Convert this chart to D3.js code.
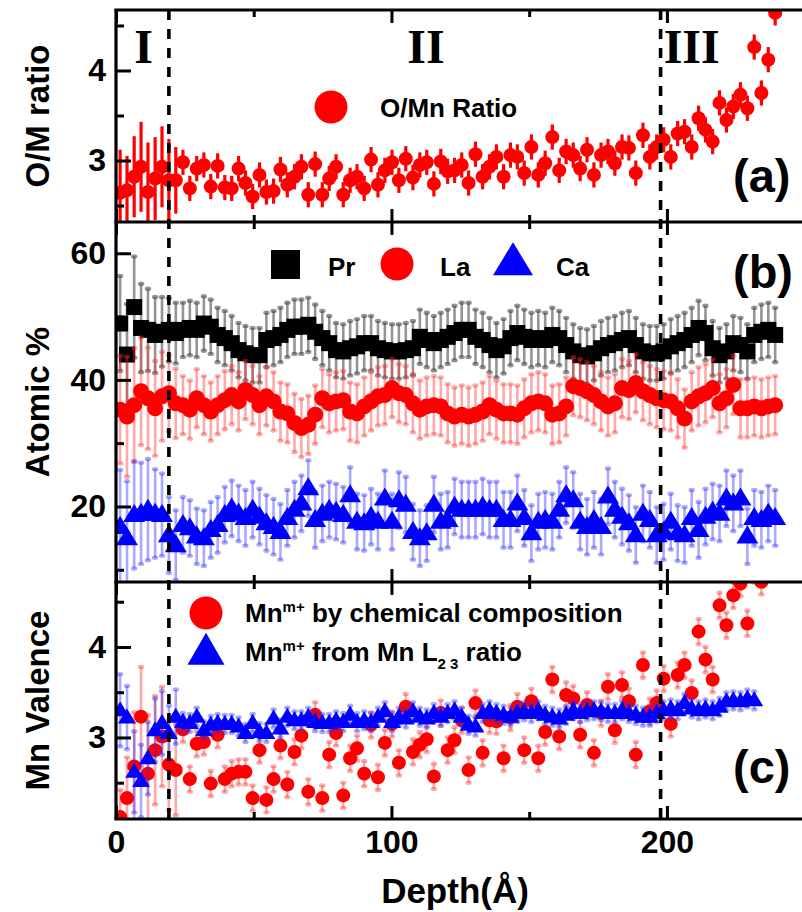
<!DOCTYPE html>
<html>
<head>
<meta charset="utf-8">
<script src="https://cdn.jsdelivr.net/npm/d3@7"></script>
<style>
  body { margin: 0; background: #fff; }
  svg { display: block; }
  text { font-family: "Liberation Sans", Arial, sans-serif; font-weight: bold; }
</style>
</head>
<body>
<svg id="chart" width="802" height="912"></svg>
<script>
// ---------------- data ----------------
const depth = [1.5, 4.0, 6.6, 9.1, 11.6, 14.2, 16.7, 19.2, 21.7, 24.3, 26.8, 29.3, 31.9, 34.4, 36.9, 39.5,
  42.0, 44.5, 47.0, 49.6, 52.1, 54.6, 57.2, 59.7, 62.2, 64.8, 67.3, 69.8, 72.3, 74.9, 77.4, 79.9, 82.5, 85.0,
  87.5, 90.1, 92.6, 95.1, 97.6, 100.2, 102.7, 105.2, 107.8, 110.3, 112.8, 115.4, 117.9, 120.4, 122.9, 125.5,
  128.0, 130.5, 133.1, 135.6, 138.1, 140.7, 143.2, 145.7, 148.2, 150.8, 153.3, 155.8, 158.4, 160.9, 163.4,
  166.0, 168.5, 171.0, 173.5, 176.1, 178.6, 181.1, 183.7, 186.2, 188.7, 191.3, 193.8, 196.3, 198.8, 201.4,
  203.9, 206.4, 209.0, 211.5, 214.0, 216.6, 219.1, 221.6, 224.1, 226.7, 229.2, 231.7, 234.3, 236.8, 239.3];

// (a) O/Mn ratio
const oMnRatio = [2.64, 2.67, 2.82, 2.93, 2.65, 2.80, 2.93, 2.78, 2.78, 2.98,
  2.69, 2.91, 2.95, 2.71, 2.94, 2.70, 2.69, 2.91, 2.75, 2.60,
  2.84, 2.65, 2.66, 2.90, 2.73, 2.82, 2.93, 2.62, 2.96, 2.62,
  2.80, 2.93, 2.62, 2.78, 2.82, 2.69, 3.01, 2.73, 2.89, 2.98,
  2.78, 3.02, 2.81, 2.95, 2.98, 2.74, 2.99, 2.88, 2.89, 2.95,
  2.75, 3.07, 2.82, 2.93, 3.04, 2.82, 3.06, 3.04, 2.86, 3.15,
  2.84, 2.97, 3.26, 2.89, 3.10, 3.06, 2.91, 3.12, 2.84, 3.06,
  3.10, 2.97, 3.15, 3.14, 2.86, 3.28, 3.04, 3.15, 3.23, 3.04,
  3.30, 3.32, 3.15, 3.47, 3.34, 3.21, 3.64, 3.45, 3.60, 3.73,
  3.58, 4.26, 3.75, 4.12, 4.64];
const oMnErrRegionI = [0.48, 0.38, 0.45, 0.50, 0.55, 0.46, 0.45, 0.46, 0.37];
const oMnErrTypical = 0.14;

// (b) atomic percentages
const pr = [48.9, 44.0, 51.5, 48.2, 47.9, 47.1, 47.6, 47.9, 47.4, 47.9,
  48.2, 47.9, 48.9, 48.4, 47.1, 46.6, 45.8, 44.7, 44.2, 43.9,
  43.9, 46.3, 46.6, 47.1, 47.9, 48.4, 48.4, 48.7, 47.6, 46.6,
  45.8, 44.7, 44.5, 45.0, 45.3, 45.8, 45.8, 45.0, 44.7, 44.5,
  44.5, 44.7, 45.0, 46.8, 46.3, 45.8, 46.3, 46.8, 47.4, 47.9,
  47.9, 46.8, 46.3, 45.5, 44.7, 45.3, 46.6, 47.4, 46.8, 46.3,
  46.6, 46.3, 47.1, 46.6, 45.5, 44.5, 43.9, 43.7, 44.2, 45.0,
  45.5, 45.8, 46.3, 46.6, 45.5, 44.5, 44.2, 44.2, 44.5, 45.3,
  45.8, 46.3, 47.1, 48.2, 47.4, 45.0, 43.9, 44.5, 45.8, 45.5,
  44.5, 47.1, 47.6, 47.9, 47.1];
const la = [35.3, 34.2, 36.0, 38.2, 37.1, 35.5, 37.4, 37.9, 36.3, 36.0,
  35.3, 37.1, 36.0, 35.0, 36.0, 36.8, 37.6, 36.6, 38.4, 37.6,
  36.0, 37.4, 36.6, 35.0, 34.7, 33.2, 32.4, 32.9, 34.5, 37.1,
  36.3, 36.6, 36.8, 35.0, 34.7, 35.8, 36.6, 37.4, 37.6, 38.7,
  37.9, 37.6, 36.3, 35.3, 35.8, 36.0, 35.8, 34.7, 34.2, 34.5,
  34.2, 34.5, 35.0, 36.0, 35.3, 34.7, 34.7, 34.5, 35.5, 36.3,
  36.6, 36.3, 34.5, 34.7, 35.8, 39.0, 38.7, 38.2, 37.6, 36.6,
  35.8, 36.3, 38.7, 38.4, 39.5, 38.2, 37.6, 37.1, 36.8, 36.6,
  35.5, 33.9, 36.6, 37.4, 37.9, 38.7, 36.3, 37.1, 39.2, 35.5,
  35.5, 35.8, 35.5, 35.8, 36.0];
const ca = [16.8, 15.0, 18.7, 18.9, 19.5, 18.9, 18.7, 15.5, 13.9, 17.1,
  16.6, 15.3, 15.0, 16.3, 17.1, 18.7, 19.7, 18.9, 18.2, 19.5,
  18.4, 17.4, 16.8, 16.0, 18.2, 19.5, 20.5, 22.9, 17.9, 18.9,
  19.5, 19.2, 18.7, 21.8, 17.6, 17.4, 18.4, 17.6, 21.3, 17.6,
  21.0, 20.3, 16.0, 15.0, 15.8, 20.3, 17.6, 17.9, 20.0, 19.5,
  19.5, 19.5, 20.0, 19.5, 19.5, 17.9, 17.9, 20.5, 18.2, 15.8,
  17.6, 17.9, 17.6, 19.5, 21.8, 21.0, 17.6, 16.8, 17.9, 16.8,
  21.6, 19.5, 18.4, 17.4, 15.5, 18.9, 17.9, 15.5, 16.0, 17.6,
  15.8, 15.5, 18.2, 16.3, 18.4, 19.2, 18.9, 21.3, 20.5, 21.3,
  15.3, 18.2, 17.9, 18.9, 18.2];
const prErrRegionI = [7.5, 8.0, 8.0, 7.0, 6.5, 6.0, 5.5, 5.0, 4.8];
const prErrTypical = 4.3;
const laErrRegionI = [8.5, 9.5, 9.0, 8.5, 8.0, 7.5, 7.0, 6.0, 5.5];
const laErrTypical = 4.6;
const caErrRegionI = [9.0, 9.0, 8.5, 8.0, 8.0, 7.0, 6.5, 6.0, 5.5];
const caErrTypical = 4.4;

// (c) Mn valence
const mnChem = [2.12, 2.33, 2.68, 3.23, 2.60, 2.86, 3.01, 2.70, 2.64, 3.09,
  2.54, 2.93, 2.95, 2.49, 3.03, 2.54, 2.60, 2.62, 2.62, 2.33,
  2.86, 2.31, 2.54, 2.91, 2.48, 2.84, 3.02, 2.40, 3.25, 2.33,
  2.81, 3.05, 2.36, 2.77, 2.88, 2.60, 3.14, 2.56, 2.94, 3.15,
  2.72, 3.34, 2.84, 2.92, 2.98, 2.57, 3.27, 2.86, 2.97, 3.19,
  2.64, 3.38, 2.83, 3.19, 3.18, 2.77, 3.22, 3.34, 2.86, 3.40,
  2.77, 3.06, 3.64, 3.01, 3.47, 3.43, 3.03, 3.36, 2.83, 3.27,
  3.56, 3.08, 3.58, 3.40, 2.81, 3.80, 3.29, 3.38, 3.65, 3.15,
  3.69, 3.80, 3.49, 4.17, 3.86, 3.64, 4.46, 4.24, 4.57, 4.70,
  4.26, 4.85, 4.72];
const mnChemErrRegionI = [0.30, 0.45, 0.60, 0.55, 0.65, 0.60, 0.55, 0.50, 0.50];
const mnChemErrTypical = 0.14;
const mnL23 = [3.30, 3.22, 2.62, 2.52, 2.77, 3.08, 3.16, 3.05, 3.23, 3.17,
  3.16, 3.23, 3.08, 3.14, 3.16, 3.15, 3.15, 3.12, 3.05, 3.16,
  3.06, 3.05, 3.21, 3.10, 3.23, 3.19, 3.19, 3.23, 3.17, 3.16,
  3.16, 3.19, 3.17, 3.25, 3.17, 3.19, 3.17, 3.23, 3.29, 3.17,
  3.23, 3.21, 3.29, 3.23, 3.21, 3.27, 3.23, 3.27, 3.30, 3.23,
  3.14, 3.12, 3.27, 3.30, 3.27, 3.25, 3.23, 3.27, 3.29, 3.27,
  3.30, 3.25, 3.23, 3.21, 3.25, 3.30, 3.27, 3.29, 3.30, 3.29,
  3.27, 3.27, 3.30, 3.27, 3.25, 3.23, 3.23, 3.27, 3.30, 3.32,
  3.30, 3.38, 3.32, 3.30, 3.32, 3.30, 3.34, 3.40, 3.41, 3.40,
  3.43, 3.41];
const mnL23ErrRegionI = [0.40, 0.35, 0.45, 0.40, 0.40, 0.35, 0.35, 0.30, 0.30];
const mnL23ErrTypical = 0.10;

const regionBounds = [19.2, 197.7];
const regionNames = ["I", "II", "III"];
const xMajorTicks = [0, 100, 200];
const xMinorTicks = [50, 150];
const yTicksA = [3, 4], yMinorA = [2.5, 3.5, 4.5];
const yTicksB = [20, 40, 60], yMinorB = [10, 30, 50];
const yTicksC = [3, 4], yMinorC = [2.5, 3.5, 4.5];

// ---------------- layout ----------------
const svg = d3.select("#chart");
const left = 116, right = 803;
const panels = {
  a: { top: 10, bottom: 222, domain: [2.317, 4.672] },
  b: { top: 222, bottom: 582, domain: [8.07, 64.94] },
  c: { top: 582, bottom: 819, domain: [2.099, 4.718] }
};
const x = d3.scaleLinear().domain([0, 249.4]).range([left, right]);
for (const k in panels) {
  const p = panels[k];
  p.y = d3.scaleLinear().domain(p.domain).range([p.bottom, p.top]);
  svg.append("clipPath").attr("id", "clip-" + k)
    .append("rect").attr("x", left).attr("y", p.top).attr("width", right - left).attr("height", p.bottom - p.top);
}

function errOf(regionI, typical) {
  return i => (i < regionI.length ? regionI[i] : typical);
}
function rows(values, errFn) {
  return values.map((v, i) => ({ d: depth[i], v: v, e: errFn(i) }));
}
function triPath(w, h) {
  return `M0,${-h * 0.6}L${w / 2},${h * 0.4}L${-w / 2},${h * 0.4}Z`;
}

// error bars with optional dot caps
function errorBars(g, data, y, opt) {
  const bars = g.append("g");
  bars.selectAll("line").data(data).join("line")
    .attr("x1", r => x(r.d)).attr("x2", r => x(r.d))
    .attr("y1", r => y(r.v - r.e)).attr("y2", r => y(r.v + r.e))
    .attr("stroke", opt.color).attr("stroke-width", opt.width);
  if (opt.cap) {
    const caps = data.flatMap(r => [{ d: r.d, v: r.v - r.e }, { d: r.d, v: r.v + r.e }]);
    bars.selectAll("ellipse").data(caps).join("ellipse")
      .attr("cx", r => x(r.d)).attr("cy", r => y(r.v))
      .attr("rx", 3.2).attr("ry", 2.2).attr("fill", opt.color);
  }
}

// ---------------- panel (a) ----------------
const pa = panels.a;
const ga = svg.append("g").attr("clip-path", "url(#clip-a)");
const dataA = rows(oMnRatio, errOf(oMnErrRegionI, oMnErrTypical));
errorBars(ga, dataA, pa.y, { color: "#ff0000", width: 3.2, cap: false });
ga.selectAll("circle").data(dataA).join("circle")
  .attr("cx", r => x(r.d)).attr("cy", r => pa.y(r.v)).attr("r", 7).attr("fill", "#ff0000");

// ---------------- panel (b) ----------------
const pb = panels.b;
const gb = svg.append("g").attr("clip-path", "url(#clip-b)");
const dataPr = rows(pr, errOf(prErrRegionI, prErrTypical));
const dataLa = rows(la, errOf(laErrRegionI, laErrTypical));
const dataCa = rows(ca, errOf(caErrRegionI, caErrTypical));
errorBars(gb, dataPr, pb.y, { color: "rgba(60,60,60,0.55)", width: 2.6, cap: true });
gb.append("g").selectAll("rect").data(dataPr).join("rect")
  .attr("x", r => x(r.d) - 8).attr("y", r => pb.y(r.v) - 8).attr("width", 16).attr("height", 16).attr("fill", "#000");
errorBars(gb, dataLa, pb.y, { color: "rgba(255,40,40,0.4)", width: 2.6, cap: true });
gb.append("g").selectAll("circle").data(dataLa).join("circle")
  .attr("cx", r => x(r.d)).attr("cy", r => pb.y(r.v)).attr("r", 8).attr("fill", "#ff0000");
errorBars(gb, dataCa, pb.y, { color: "rgba(40,40,255,0.4)", width: 2.6, cap: true });
gb.append("g").selectAll("path").data(dataCa).join("path")
  .attr("d", triPath(22, 18)).attr("transform", r => `translate(${x(r.d)},${pb.y(r.v)})`).attr("fill", "#0000ff");

// ---------------- panel (c) ----------------
const pc = panels.c;
const gc = svg.append("g").attr("clip-path", "url(#clip-c)");
const dataChem = rows(mnChem, errOf(mnChemErrRegionI, mnChemErrTypical));
const dataL23 = rows(mnL23, errOf(mnL23ErrRegionI, mnL23ErrTypical));
errorBars(gc, dataChem, pc.y, { color: "rgba(255,40,40,0.4)", width: 2.6, cap: true });
gc.append("g").selectAll("circle").data(dataChem).join("circle")
  .attr("cx", r => x(r.d)).attr("cy", r => pc.y(r.v)).attr("r", 7).attr("fill", "#ff0000");
errorBars(gc, dataL23, pc.y, { color: "rgba(40,40,255,0.4)", width: 2.6, cap: true });
gc.append("g").selectAll("path").data(dataL23).join("path")
  .attr("d", triPath(18, 15)).attr("transform", r => `translate(${x(r.d)},${pc.y(r.v)})`).attr("fill", "#0000ff");

// ---------------- region dividers and labels ----------------
svg.append("g").selectAll("line").data(regionBounds).join("line")
  .attr("x1", d => x(d)).attr("x2", d => x(d)).attr("y1", pa.top).attr("y2", pc.bottom)
  .attr("stroke", "#000").attr("stroke-width", 3.6).attr("stroke-dasharray", "10,9");
const regionLabelX = [x(10), x(112.5), x(209)];
svg.append("g").selectAll("text").data(regionNames).join("text")
  .attr("x", (d, i) => regionLabelX[i]).attr("y", 63).attr("text-anchor", "middle")
  .style("font-family", "'Liberation Serif', 'Times New Roman', serif").style("font-size", "48px").text(d => d);

// ---------------- axes ----------------
function styleAxis(g) {
  g.select(".domain").remove();
  g.selectAll(".tick line").attr("stroke", "#000").attr("stroke-width", 3);
  g.selectAll(".tick text").attr("fill", "#000").style("font-size", "32px")
    .style("font-family", "'Liberation Sans', Arial, sans-serif").style("font-weight", "bold");
}
function yAxes(p, major, minor) {
  svg.append("g").attr("transform", `translate(${left},0)`)
    .call(d3.axisLeft(p.y).tickValues(major).tickFormat(d3.format("d")).tickSizeInner(-15).tickSizeOuter(0).tickPadding(10))
    .call(styleAxis);
  svg.append("g").attr("transform", `translate(${left},0)`)
    .call(d3.axisLeft(p.y).tickValues(minor).tickFormat("").tickSizeInner(-8).tickSizeOuter(0))
    .call(styleAxis);
}
function xAxes(p, labels) {
  const majB = d3.axisBottom(x).tickValues(xMajorTicks).tickSizeInner(-13).tickSizeOuter(0).tickPadding(11);
  if (!labels) majB.tickFormat("");
  svg.append("g").attr("transform", `translate(0,${p.bottom})`).call(majB).call(styleAxis);
  svg.append("g").attr("transform", `translate(0,${p.bottom})`)
    .call(d3.axisBottom(x).tickValues(xMinorTicks).tickFormat("").tickSizeInner(-7).tickSizeOuter(0)).call(styleAxis);
  svg.append("g").attr("transform", `translate(0,${p.top})`)
    .call(d3.axisTop(x).tickValues(xMajorTicks).tickFormat("").tickSizeInner(-13).tickSizeOuter(0)).call(styleAxis);
  svg.append("g").attr("transform", `translate(0,${p.top})`)
    .call(d3.axisTop(x).tickValues(xMinorTicks).tickFormat("").tickSizeInner(-7).tickSizeOuter(0)).call(styleAxis);
}
yAxes(pa, yTicksA, yMinorA);
yAxes(pb, yTicksB, yMinorB);
yAxes(pc, yTicksC, yMinorC);
xAxes(pa, false);
xAxes(pb, false);
xAxes(pc, true);

// frame
const frame = svg.append("g").attr("stroke", "#000").attr("stroke-width", 3.2);
[pa.top, pa.bottom, pb.bottom, pc.bottom].forEach(yy =>
  frame.append("line").attr("x1", left - 1.6).attr("x2", right).attr("y1", yy).attr("y2", yy));
frame.append("line").attr("x1", left).attr("x2", left).attr("y1", pa.top).attr("y2", pc.bottom);

// axis titles
function yTitle(p, txt) {
  svg.append("text").attr("transform", `translate(49,${(p.top + p.bottom) / 2}) rotate(-90)`)
    .attr("text-anchor", "middle").style("font-size", "33px").text(txt);
}
yTitle(pa, "O/M ratio");
yTitle(pb, "Atomic %");
yTitle(pc, "Mn Valence");
svg.append("text").attr("x", 455).attr("y", 903).attr("text-anchor", "middle")
  .style("font-size", "35px").text("Depth(Å)");

// panel tags
[["(a)", pa, 192], ["(b)", pb, 288], ["(c)", pc, 783]].forEach(([t, p, yy]) =>
  svg.append("text").attr("x", 733).attr("y", yy).style("font-size", "47px").text(t));

// ---------------- legends ----------------
const legA = svg.append("g");
legA.append("circle").attr("cx", 331).attr("cy", 107).attr("r", 16.5).attr("fill", "#ff0000");
legA.append("text").attr("x", 380).attr("y", 117).style("font-size", "26px").text("O/Mn Ratio");

const legB = svg.append("g");
legB.append("rect").attr("x", 271).attr("y", 250).attr("width", 29).attr("height", 29).attr("fill", "#000");
legB.append("text").attr("x", 328).attr("y", 276).style("font-size", "26px").text("Pr");
legB.append("circle").attr("cx", 397).attr("cy", 264).attr("r", 16.5).attr("fill", "#ff0000");
legB.append("text").attr("x", 440).attr("y", 276).style("font-size", "26px").text("La");
legB.append("path").attr("d", triPath(40, 33)).attr("transform", "translate(513,262)").attr("fill", "#0000ff");
legB.append("text").attr("x", 556).attr("y", 276).style("font-size", "26px").text("Ca");

const legC = svg.append("g");
legC.append("circle").attr("cx", 206).attr("cy", 613).attr("r", 16.5).attr("fill", "#ff0000");
const t1 = legC.append("text").attr("x", 245).attr("y", 622).style("font-size", "26px");
t1.append("tspan").text("Mn");
t1.append("tspan").attr("dy", -10).style("font-size", "15px").text("m+");
t1.append("tspan").attr("dy", 10).text(" by chemical composition");
legC.append("path").attr("d", triPath(37, 32)).attr("transform", "translate(206,652)").attr("fill", "#0000ff");
const t2 = legC.append("text").attr("x", 245).attr("y", 661).style("font-size", "26px");
t2.append("tspan").text("Mn");
t2.append("tspan").attr("dy", -10).style("font-size", "15px").text("m+");
t2.append("tspan").attr("dy", 10).text(" from Mn L");
t2.append("tspan").attr("dy", 8).style("font-size", "15px").text("2 3");
t2.append("tspan").attr("dy", -8).text(" ratio");
</script>
</body>
</html>
